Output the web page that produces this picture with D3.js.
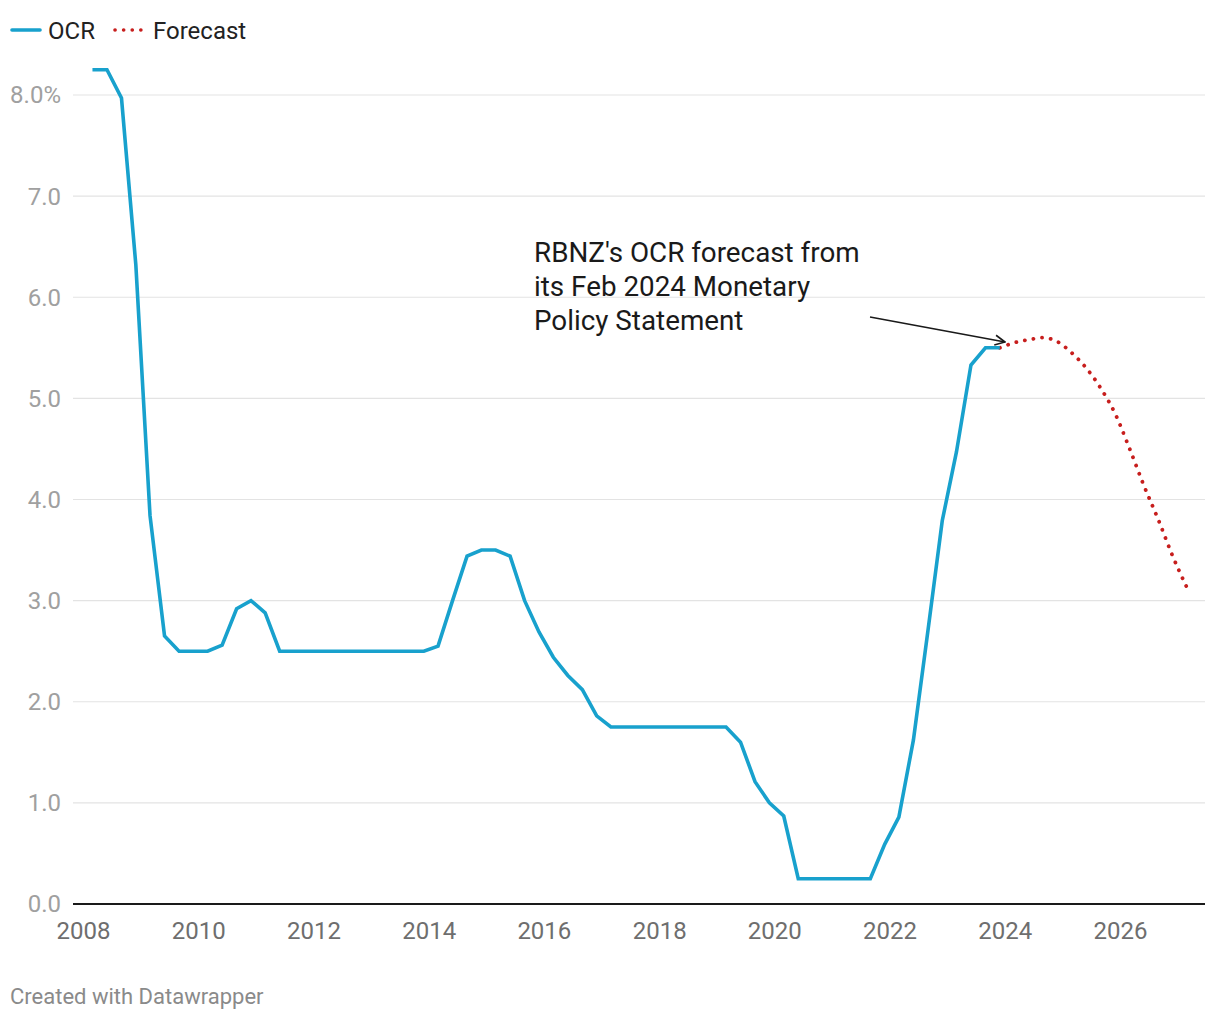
<!DOCTYPE html>
<html>
<head>
<meta charset="utf-8">
<script src="https://cdn.jsdelivr.net/npm/d3@7"></script>
<style>
  html, body { margin: 0; padding: 0; background: #fff; }
  svg { display: block; font-family: Roboto, "Noto Sans", sans-serif; }
</style>
</head>
<body>
<svg id="chart" width="1220" height="1020"></svg>
<script>
// ---------- data ----------
const ocrDates = [
  "2008-03","2008-06","2008-09","2008-12",
  "2009-03","2009-06","2009-09","2009-12",
  "2010-03","2010-06","2010-09","2010-12",
  "2011-03","2011-06","2011-09","2011-12",
  "2012-03","2012-06","2012-09","2012-12",
  "2013-03","2013-06","2013-09","2013-12",
  "2014-03","2014-06","2014-09","2014-12",
  "2015-03","2015-06","2015-09","2015-12",
  "2016-03","2016-06","2016-09","2016-12",
  "2017-03","2017-06","2017-09","2017-12",
  "2018-03","2018-06","2018-09","2018-12",
  "2019-03","2019-06","2019-09","2019-12",
  "2020-03","2020-06","2020-09","2020-12",
  "2021-03","2021-06","2021-09","2021-12",
  "2022-03","2022-06","2022-09","2022-12",
  "2023-03","2023-06","2023-09","2023-12"
];
const ocrValues = [
  8.25, 8.25, 7.97, 6.32,
  3.84, 2.65, 2.50, 2.50,
  2.50, 2.56, 2.92, 3.00,
  2.88, 2.50, 2.50, 2.50,
  2.50, 2.50, 2.50, 2.50,
  2.50, 2.50, 2.50, 2.50,
  2.55, 3.00, 3.44, 3.50,
  3.50, 3.44, 3.00, 2.69,
  2.44, 2.26, 2.12, 1.86,
  1.75, 1.75, 1.75, 1.75,
  1.75, 1.75, 1.75, 1.75,
  1.75, 1.60, 1.21, 1.00,
  0.87, 0.25, 0.25, 0.25,
  0.25, 0.25, 0.25, 0.59,
  0.86, 1.62, 2.70, 3.79,
  4.47, 5.33, 5.50, 5.50
];
const forecastDates = [
  "2023-12","2024-03","2024-06","2024-09","2024-12",
  "2025-03","2025-06","2025-09","2025-12",
  "2026-03","2026-06","2026-09","2026-12","2027-03"
];
const forecastValues = [
  5.50, 5.55, 5.58, 5.60, 5.56,
  5.45, 5.30, 5.10, 4.85,
  4.51, 4.14, 3.80, 3.44, 3.13
];
const yTicks = [0, 1, 2, 3, 4, 5, 6, 7, 8];
const xTickYears = [2008, 2010, 2012, 2014, 2016, 2018, 2020, 2022, 2024, 2026];
const legendLabels = ["OCR", "Forecast"];
const annotationLines = ["RBNZ's OCR forecast from", "its Feb 2024 Monetary", "Policy Statement"];
const footerText = "Created with Datawrapper";

// ---------- setup ----------
const parse = d3.timeParse("%Y-%m");
const svg = d3.select("#chart");
const blue = "#18a1cd", red = "#c71e1d";
const plotLeft = 73, plotRight = 1205;

const x = d3.scaleTime()
  .domain([new Date(2008, 0, 1), new Date(2026, 0, 1)])
  .range([83, 1120]);
const y = d3.scaleLinear().domain([0, 8]).range([904, 95]);

// gridlines + y labels
const g = svg.append("g");
g.selectAll("line.grid").data(yTicks.filter(d => d > 0)).join("line")
  .attr("x1", plotLeft).attr("x2", plotRight)
  .attr("y1", d => y(d)).attr("y2", d => y(d))
  .attr("stroke", "#e3e3e3").attr("stroke-width", 1.2);

g.selectAll("text.ylab").data(yTicks).join("text")
  .attr("x", 61).attr("y", d => y(d)).attr("dy", "0.35em")
  .attr("text-anchor", "end")
  .attr("font-size", 24).attr("fill", "#a0a0a0")
  .text(d => d3.format(".1f")(d) + (d === 8 ? "%" : ""));

// x axis labels
const xAxis = d3.axisBottom(x)
  .tickValues(xTickYears.map(yr => new Date(yr, 0, 1)))
  .tickFormat(d3.timeFormat("%Y"))
  .tickSize(0).tickPadding(0);
const xa = svg.append("g").attr("transform", "translate(0,904)").call(xAxis);
xa.select(".domain").remove();
xa.selectAll("text").attr("font-size", 24).attr("fill", "#6e6e6e")
  .attr("font-family", "Roboto, sans-serif").attr("y", 34.5).attr("dy", 0);

// baseline
svg.append("line").attr("x1", plotLeft).attr("x2", plotRight)
  .attr("y1", y(0)).attr("y2", y(0))
  .attr("stroke", "#1a1a1a").attr("stroke-width", 2.2);

// lines
const ocrData = ocrDates.map((d, i) => ({ date: parse(d), value: ocrValues[i] }));
const fcData = forecastDates.map((d, i) => ({ date: parse(d), value: forecastValues[i] }));

svg.append("path").datum(fcData)
  .attr("d", d3.line().x(d => x(d.date)).y(d => y(d.value)).curve(d3.curveMonotoneX))
  .attr("fill", "none").attr("stroke", red).attr("stroke-width", 3.8)
  .attr("stroke-linecap", "round").attr("stroke-dasharray", "0.1 8.6");

svg.append("path").datum(ocrData)
  .attr("d", d3.line().x(d => x(d.date)).y(d => y(d.value)))
  .attr("fill", "none").attr("stroke", blue).attr("stroke-width", 3.6)
  .attr("stroke-linejoin", "miter").attr("stroke-linecap", "butt");

// legend
const leg = svg.append("g");
leg.append("line").attr("x1", 12).attr("x2", 40).attr("y1", 30).attr("y2", 30)
  .attr("stroke", blue).attr("stroke-width", 3.6).attr("stroke-linecap", "round");
leg.append("text").attr("x", 48).attr("y", 38.5).attr("font-size", 24).attr("fill", "#222")
  .text(legendLabels[0]);
leg.append("line").attr("x1", 115).attr("x2", 146).attr("y1", 30).attr("y2", 30)
  .attr("stroke", red).attr("stroke-width", 3.6).attr("stroke-linecap", "round")
  .attr("stroke-dasharray", "0.1 8.5");
leg.append("text").attr("x", 153).attr("y", 38.5).attr("font-size", 24).attr("fill", "#222")
  .text(legendLabels[1]);

// annotation
const ann = svg.append("text").attr("font-size", 27.8).attr("fill", "#1a1a1a");
annotationLines.forEach((t, i) => {
  ann.append("tspan").attr("x", 534).attr("y", 262 + i * 34).text(t);
});

// arrow
svg.append("defs").append("marker")
  .attr("id", "arrowhead").attr("viewBox", "0 0 12 12")
  .attr("refX", 11).attr("refY", 6)
  .attr("markerWidth", 12).attr("markerHeight", 12)
  .attr("markerUnits", "userSpaceOnUse")
  .attr("orient", "auto")
  .append("path").attr("d", "M1,1 L11,6 L1,11")
  .attr("fill", "none").attr("stroke", "#1a1a1a").attr("stroke-width", 1.6);
svg.append("line")
  .attr("x1", 870).attr("y1", 317).attr("x2", 1005).attr("y2", 342)
  .attr("stroke", "#1a1a1a").attr("stroke-width", 1.6)
  .attr("marker-end", "url(#arrowhead)");

// footer
svg.append("text").attr("x", 10).attr("y", 1004).attr("font-size", 22)
  .attr("fill", "#8a8a8a").text(footerText);
</script>
</body>
</html>
